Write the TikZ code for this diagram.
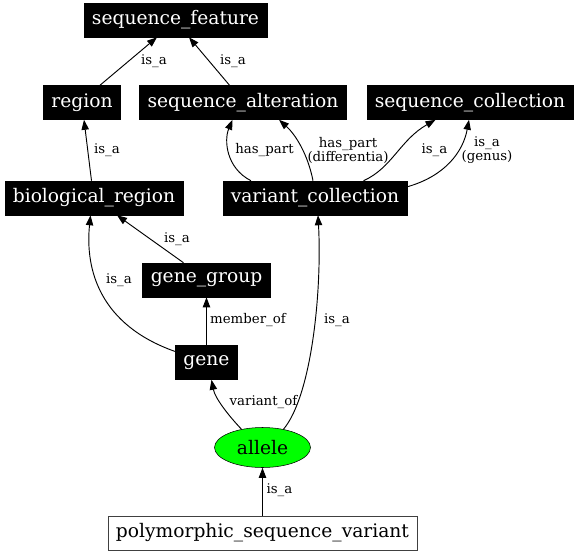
\documentclass[tikz,border=0pt]{standalone}
\usepackage{fontspec}
\setmainfont{DejaVu Serif}
\usetikzlibrary{arrows.meta,calc,shapes.geometric}
\begin{document}
\begin{tikzpicture}[x=0.75pt,y=-0.75pt,
  blk/.style={rectangle,fill=black,draw=black,text=white,font=\fontsize{14}{16}\selectfont,inner xsep=6pt,inner ysep=0pt,minimum height=25.5pt},
  wbox/.style={rectangle,fill=white,draw=black!75,text=black,font=\fontsize{14}{16}\selectfont,inner xsep=6pt,inner ysep=0pt,minimum height=25.5pt},
  ell/.style={ellipse,fill=green,draw=black,font=\fontsize{14}{16}\selectfont,inner sep=0pt,minimum width=72pt,minimum height=30pt},
  lbl/.style={font=\fontsize{10}{10.5}\selectfont,inner sep=0pt,align=center},
  edge/.style={draw=black,line width=0.7pt,-{Triangle[length=7.5pt,width=5.5pt]}}]
\useasboundingbox (0,0) rectangle (576,554);
\fill[white] (0,0) rectangle (576,554);
% nodes
\node[blk] (sf) at (175.5,20) {sequence\_feature};
\node[blk] (region) at (82,102.5) {region};
\node[blk] (salt) at (243,102.5) {sequence\_alteration};
\node[blk] (scol) at (470,102.5) {sequence\_collection};
\node[blk] (bioreg) at (94,198) {biological\_region};
\node[blk] (vcol) at (315,198) {variant\_collection};
\node[blk] (gg) at (206.5,280) {gene\_group};
\node[blk] (gene) at (206.5,362.5) {gene};
\node[ell] (allele) at (262.5,447.5) {allele};
\node[wbox] (psv) at (262.5,533) {polymorphic\_sequence\_variant};
% edges
\draw[edge] ($(region.north)+(18,0)$) -- ($(sf.south)+(-18.5,0)$);
\draw[edge] ($(salt.north)+(-13.5,0)$) -- ($(sf.south)+(13.5,0)$);
\draw[edge] ($(bioreg.north)+(-2.5,0)$) -- ($(region.south)+(2,0)$);
\draw[edge] ($(vcol.north)+(-64,0)$) .. controls (226,168) and (224,140) .. ($(salt.south)+(-10.5,0)$);
\draw[edge] ($(vcol.north)+(-2,0)$) .. controls (308,155) and (296,135) .. ($(salt.south)+(36,0)$);
\draw[edge] ($(vcol.north)+(48.5,0)$) .. controls (392,168) and (400,140) .. ($(scol.south)+(-34.5,0)$);
\draw[edge] ($(vcol.north east)+(0,6)$) .. controls (445,176) and (463,152) .. ($(scol.south)+(-1,0)$);
\draw[edge] ($(gg.north)+(-23,0)$) -- ($(bioreg.south)+(23,0)$);
\draw[edge] ($(gene.west)+(0,-11)$) .. controls (100,325) and (85,270) .. ($(bioreg.south)+(-3.5,0)$);
\draw[edge] (gene.north) -- (gg.south);
\draw[edge] (allele.139) .. controls (228,415) and (215,398) .. ($(gene.south)+(5,0)$);
\draw[edge] (allele.41) .. controls (312,395) and (322,290) .. ($(vcol.south)+(3,0)$);
\draw[edge] (psv.north) -- (allele.south);
% labels
\node[lbl] (l1) at (154,61) {is\_a};
\node[lbl] (l2) at (233,61) {is\_a};
\node[lbl] (l3) at (107,150) {is\_a};
\node[lbl] (l4) at (264.5,150) {has\_part};
\node[lbl] (l5) at (348,150) {has\_part\\(differentia)};
\node[lbl] (l6) at (434.5,150) {is\_a};
\node[lbl] (l7) at (487,150) {is\_a\\(genus)};
\node[lbl] (l8) at (177,239) {is\_a};
\node[lbl] (l9) at (119,280) {is\_a};
\node[lbl] (l10) at (248,320.5) {member\_of};
\node[lbl] (l11) at (263.5,402.5) {variant\_of};
\node[lbl] (l12) at (337,320.5) {is\_a};
\node[lbl] (l13) at (279.5,490.5) {is\_a};
\end{tikzpicture}
\end{document}
